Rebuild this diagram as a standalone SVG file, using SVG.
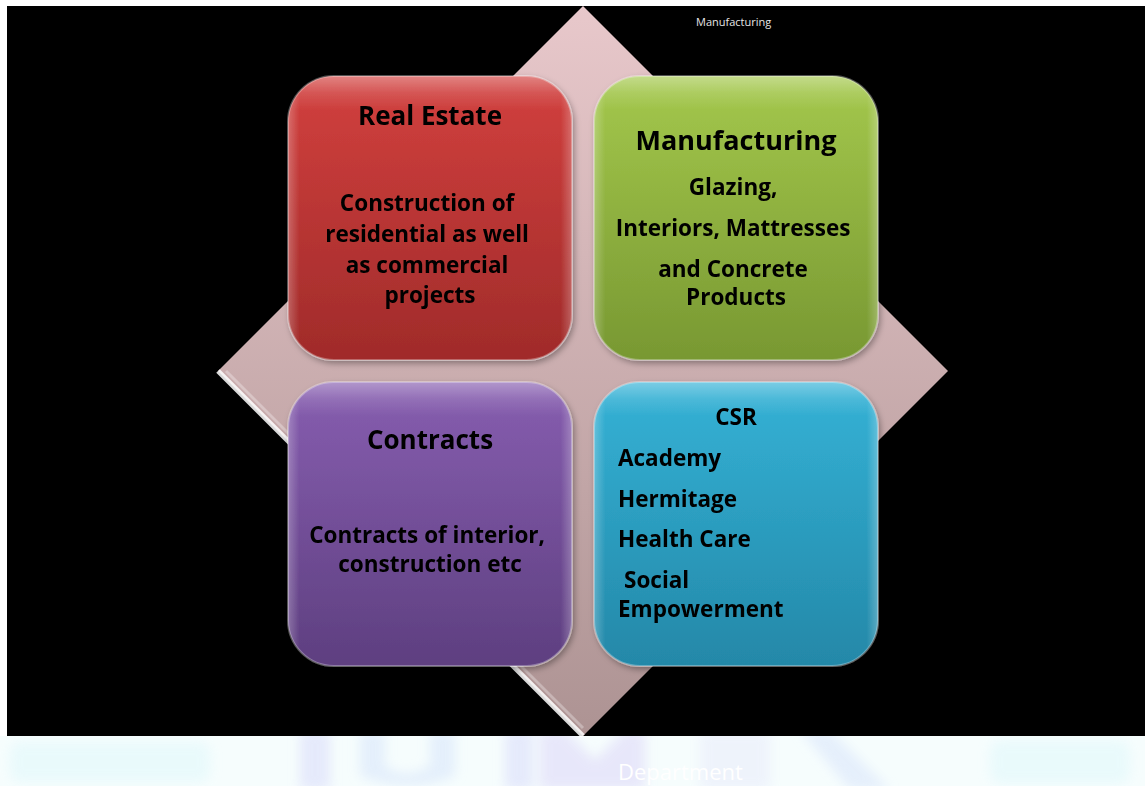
<svg xmlns="http://www.w3.org/2000/svg" width="1145" height="786" viewBox="0 0 1145 786">
  <defs>
    <linearGradient id="gDiamond" x1="0" y1="0" x2="0" y2="1">
      <stop offset="0" stop-color="#e8c8cb"/>
      <stop offset="1" stop-color="#ad9393"/>
    </linearGradient>
    <linearGradient id="gRed" x1="0" y1="0" x2="0" y2="1">
      <stop offset="0" stop-color="#d2403e"/>
      <stop offset="1" stop-color="#a02b2a"/>
    </linearGradient>
    <linearGradient id="gGreen" x1="0" y1="0" x2="0" y2="1">
      <stop offset="0" stop-color="#a4c84c"/>
      <stop offset="1" stop-color="#789832"/>
    </linearGradient>
    <linearGradient id="gPurple" x1="0" y1="0" x2="0" y2="1">
      <stop offset="0" stop-color="#875eb0"/>
      <stop offset="1" stop-color="#5e3f80"/>
    </linearGradient>
    <linearGradient id="gBlue" x1="0" y1="0" x2="0" y2="1">
      <stop offset="0" stop-color="#34b2d6"/>
      <stop offset="1" stop-color="#2488a8"/>
    </linearGradient>
    <linearGradient id="gGloss" x1="0" y1="0" x2="0" y2="1">
      <stop offset="0" stop-color="#ffffff" stop-opacity="0.35"/>
      <stop offset="0.06" stop-color="#ffffff" stop-opacity="0.12"/>
      <stop offset="0.12" stop-color="#ffffff" stop-opacity="0"/>
    </linearGradient>
    <linearGradient id="gEdge" x1="0" y1="0" x2="1" y2="0">
      <stop offset="0" stop-color="#ffffff" stop-opacity="0.25"/>
      <stop offset="0.04" stop-color="#ffffff" stop-opacity="0"/>
      <stop offset="0.96" stop-color="#ffffff" stop-opacity="0"/>
      <stop offset="1" stop-color="#ffffff" stop-opacity="0.25"/>
    </linearGradient>
    <filter id="soft" x="-20%" y="-50%" width="140%" height="200%">
      <feGaussianBlur stdDeviation="6"/>
    </filter>
    <filter id="shadow" x="-10%" y="-10%" width="120%" height="120%">
      <feDropShadow dx="2" dy="3" stdDeviation="3" flood-color="#000" flood-opacity="0.35"/>
    </filter>
    <clipPath id="bannerClip">
      <rect x="0" y="736" width="1145" height="50"/>
    </clipPath>
  </defs>
  <style>
    .title { font-family: "Open Sans", "Liberation Sans", sans-serif; font-weight: bold; fill: #000; }
    .body { font-family: "Open Sans", "Liberation Sans", sans-serif; font-weight: bold; fill: #000; font-size: 22.5px; }
    .frame { stroke: #ffffff; stroke-opacity: 0.3; stroke-width: 2; }
  </style>

  <!-- page -->
  <rect x="0" y="0" width="1145" height="786" fill="#ffffff"/>
  <rect x="7" y="6" width="1138" height="730" fill="#000000"/>

  <!-- washed-out banner along the bottom -->
  <g id="banner">
    <rect x="0" y="736" width="1145" height="50" fill="#f6fdfd"/>
    <g clip-path="url(#bannerClip)">
      <g filter="url(#soft)" opacity="0.55">
        <rect x="10" y="742" width="200" height="40" rx="10" fill="#dff8fb"/>
        <rect x="300" y="730" width="30" height="60" fill="#d8dafa"/>
        <path d="M360 730 h25 v36 q20 15 45 0 v-36 h25 v46 q-45 20 -95 0z" fill="#d6e4fa"/>
        <rect x="505" y="730" width="28" height="60" fill="#d8dafa"/>
        <path d="M540 790 v-60 h25 l30 30 l30 -30 h20 v60z" fill="#dcd6f8"/>
        <rect x="700" y="730" width="70" height="60" fill="#e8ebfb"/>
        <path d="M800 730 h30 l60 60 h-40z" fill="#d8e4fb"/>
        <rect x="990" y="740" width="140" height="44" rx="12" fill="#dff8fb"/>
      </g>
    </g>
    <text x="618" y="780" font-family="'Open Sans', 'Liberation Sans', sans-serif" font-size="22" fill="#ffffff">Department</text>
  </g>

  <!-- header label -->
  <text x="696" y="26" font-family="'Open Sans', 'Liberation Sans', sans-serif" font-size="11" fill="#e6e6e6">Manufacturing</text>

  <!-- backing diamond with bevelled lower-left edge -->
  <g id="diamond">
    <polygon points="583,6 948,371 583,736 218,371" fill="url(#gDiamond)"/>
    <polyline points="218,371 583,736" fill="none" stroke="#ffffff" stroke-width="5" stroke-opacity="0.85"/>
    <polyline points="226,371 583,728" fill="none" stroke="#ffffff" stroke-width="3" stroke-opacity="0.3"/>
  </g>

  <!-- Real Estate -->
  <g id="real-estate" filter="url(#shadow)">
    <rect x="288" y="76" width="284" height="284" rx="46" fill="url(#gRed)" class="frame"/>
    <rect x="288" y="76" width="284" height="284" rx="46" fill="url(#gGloss)"/>
    <rect x="288" y="76" width="284" height="284" rx="46" fill="url(#gEdge)"/>
    <text class="title" x="430" y="125" font-size="26" text-anchor="middle">Real Estate</text>
    <text class="body" text-anchor="middle">
      <tspan x="430" y="211">Construction of</tspan>
      <tspan x="430" y="242">residential as well</tspan>
      <tspan x="430" y="273">as commercial</tspan>
      <tspan x="430" y="303">projects</tspan>
    </text>
  </g>

  <!-- Manufacturing -->
  <g id="manufacturing" filter="url(#shadow)">
    <rect x="594" y="76" width="284" height="284" rx="46" fill="url(#gGreen)" class="frame"/>
    <rect x="594" y="76" width="284" height="284" rx="46" fill="url(#gGloss)"/>
    <rect x="594" y="76" width="284" height="284" rx="46" fill="url(#gEdge)"/>
    <text class="title" x="736" y="150" font-size="27" text-anchor="middle">Manufacturing</text>
    <text class="body" text-anchor="middle">
      <tspan x="736" y="195">Glazing,</tspan>
      <tspan x="736" y="236">Interiors, Mattresses</tspan>
      <tspan x="736" y="277">and Concrete</tspan>
      <tspan x="736" y="305">Products</tspan>
    </text>
  </g>

  <!-- Contracts -->
  <g id="contracts" filter="url(#shadow)">
    <rect x="288" y="382" width="284" height="284" rx="46" fill="url(#gPurple)" class="frame"/>
    <rect x="288" y="382" width="284" height="284" rx="46" fill="url(#gGloss)"/>
    <rect x="288" y="382" width="284" height="284" rx="46" fill="url(#gEdge)"/>
    <text class="title" x="430" y="449" font-size="26" text-anchor="middle">Contracts</text>
    <text class="body" text-anchor="middle">
      <tspan x="430" y="543">Contracts of interior,</tspan>
      <tspan x="430" y="572">construction etc</tspan>
    </text>
  </g>

  <!-- CSR -->
  <g id="csr" filter="url(#shadow)">
    <rect x="594" y="382" width="284" height="284" rx="46" fill="url(#gBlue)" class="frame"/>
    <rect x="594" y="382" width="284" height="284" rx="46" fill="url(#gGloss)"/>
    <rect x="594" y="382" width="284" height="284" rx="46" fill="url(#gEdge)"/>
    <text class="body" x="736" y="425" text-anchor="middle">CSR</text>
    <text class="body">
      <tspan x="618" y="466">Academy</tspan>
      <tspan x="618" y="507">Hermitage</tspan>
      <tspan x="618" y="547">Health Care</tspan>
      <tspan x="624" y="588">Social</tspan>
      <tspan x="618" y="617">Empowerment</tspan>
    </text>
  </g>

  <!-- no connectors in this layout -->
  <g id="connectors"/>
</svg>
